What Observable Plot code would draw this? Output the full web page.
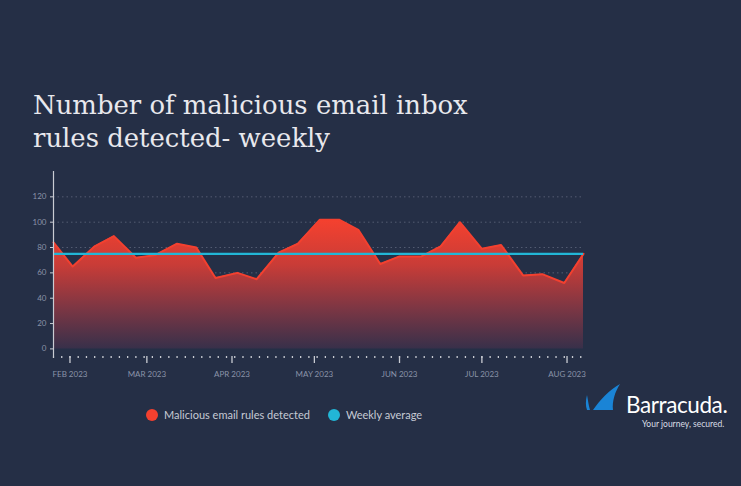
<!DOCTYPE html>
<html><head><meta charset="utf-8">
<script src="https://cdn.jsdelivr.net/npm/d3@7"></script>
<script src="https://cdn.jsdelivr.net/npm/@observablehq/plot@0.6"></script>
<style>
html,body{margin:0;padding:0;background:#252f46;}
#wrap{position:relative;width:741px;height:486px;overflow:hidden;background:#252f46;}
#title{position:absolute;left:33px;top:89px;font-family:"DejaVu Serif",serif;font-size:25.9px;line-height:32.5px;color:#e8e8ed;font-weight:300;white-space:nowrap;}
#chart{position:absolute;left:0;top:160px;}
#legend{position:absolute;top:408px;left:146px;font-family:Lato,"Open Sans",sans-serif;font-size:11px;color:#c6cad4;display:flex;align-items:center;}
#legend .item{display:flex;align-items:center;margin-right:18px;}
#legend .dot{width:12px;height:12px;border-radius:50%;margin-right:6px;}
#logo{position:absolute;left:580px;top:375px;width:160px;height:60px;}
#logo .brand{position:absolute;left:46px;top:16px;font-family:Lato,"Open Sans",sans-serif;font-size:22.5px;color:#ffffff;letter-spacing:-0.4px;}
#logo .tag{position:absolute;left:62px;top:44px;font-family:Lato,"Open Sans",sans-serif;font-size:8.5px;color:#d9dde5;}
</style>
</head><body>
<div id="wrap">
  <div id="title">Number of malicious email inbox<br>rules detected- weekly</div>
  <div id="chart"></div>
  <div id="legend"></div>
  <div id="logo">
    <svg width="45" height="45" viewBox="0 0 45 45" style="position:absolute;left:0;top:0">
      <path d="M7,20 C5.5,26 5.5,31 7,35 L10,35 C8.5,30 8,25 7,20 Z" fill="#1a84d6"/>
      <path d="M13,35 C20,25 29,15 40,9 C35,17 32,26 33,35 Z" fill="#1a84d6"/>
    </svg>
    <div class="brand">Barracuda.</div>
    <div class="tag">Your journey, secured.</div>
  </div>
</div>
<script>
// ---- data ----
const weekDates = ["2023-01-26","2023-02-02","2023-02-10","2023-02-17","2023-02-25","2023-03-04","2023-03-12","2023-03-19","2023-03-26","2023-04-03","2023-04-10","2023-04-18","2023-04-25","2023-05-03","2023-05-10","2023-05-17","2023-05-25","2023-06-01","2023-06-09","2023-06-16","2023-06-23","2023-07-01","2023-07-08","2023-07-16","2023-07-23","2023-07-31","2023-08-07"];
const detected = [84,65,81,89,72,74,83,80,56,60,55,76,83,102,102,94,67,73,73,81,100,79,82,58,59,52,75];
const weeklyAverage = [75];
const yTicks = [0,20,40,60,80,100,120];
const monthTicks = ["2023-02-01","2023-03-01","2023-04-01","2023-05-01","2023-06-01","2023-07-01","2023-08-01"];
const monthLabels = ["FEB 2023","MAR 2023","APR 2023","MAY 2023","JUN 2023","JUL 2023","AUG 2023"];
const seriesNames = ["Malicious email rules detected","Weekly average"];
const seriesColors = ["#f3402f","#22b6d6"];

const data = weekDates.map((d,i)=>({date:new Date(d), value:detected[i]}));
const xDomain = [data[0].date, data[data.length-1].date];
const monthDates = monthTicks.map(d=>new Date(d));
const minorTicks = d3.utcDay.range(xDomain[0], new Date(+xDomain[1] + 864e5)).filter((d,i)=>i%3===0);

const gradient = () => {
  const ns = "http://www.w3.org/2000/svg";
  const defs = document.createElementNS(ns,"defs");
  defs.innerHTML = '<linearGradient id="redfade" x1="0" y1="0" x2="0" y2="1">'+
    '<stop offset="0" stop-color="#f5412f"/><stop offset="0.35" stop-color="#c93c37"/>'+
    '<stop offset="0.7" stop-color="#7a3644"/><stop offset="1" stop-color="#38304a"/></linearGradient>';
  return defs;
};

const chart = Plot.plot({
  width:741, height:230, marginTop:11, marginBottom:34, marginLeft:53, marginRight:158,
  style:{background:"transparent", fontFamily:"Lato, 'Open Sans', sans-serif", fontSize:"8px", color:"#8a93a8", overflow:"visible"},
  x:{type:"utc", domain:xDomain, label:null},
  y:{domain:[-6,140], label:null},
  marks:[
    gradient,
    Plot.gridY(yTicks.filter(v=>v>0), {stroke:"#5f687d", strokeOpacity:0.8, strokeDasharray:"1.5,3"}),
    Plot.areaY(data,{x:"date", y:"value", fill:"url(#redfade)"}),
    Plot.lineY(data,{x:"date", y:"value", stroke:seriesColors[0], strokeWidth:2}),
    Plot.ruleY(weeklyAverage, {stroke:seriesColors[1], strokeWidth:2.4}),
    Plot.ruleX([xDomain[0]], {stroke:"#c9ccd3", strokeWidth:1.2}),
    Plot.axisY(yTicks,{tickSize:3, tickPadding:4, stroke:"#c9ccd3", fill:"#8a93a8", label:null}),
    Plot.axisX(minorTicks,{tickSize:2, tickFormat:()=>"", stroke:"#c9ccd3", strokeWidth:1.3, label:null}),
    Plot.axisX(monthDates,{tickSize:7, tickPadding:8, stroke:"#c9ccd3", strokeWidth:1.3, fill:"#8a93a8", label:null,
      tickFormat:d=>monthLabels[monthDates.findIndex(m=>+m===+d)]})
  ]
});
document.getElementById("chart").appendChild(chart);

const legend = document.getElementById("legend");
seriesNames.forEach((n,i)=>{
  const it = document.createElement("div"); it.className="item";
  const dot = document.createElement("span"); dot.className="dot"; dot.style.background=seriesColors[i];
  const t = document.createElement("span"); t.textContent=n;
  it.appendChild(dot); it.appendChild(t); legend.appendChild(it);
});
</script>
</body></html>
